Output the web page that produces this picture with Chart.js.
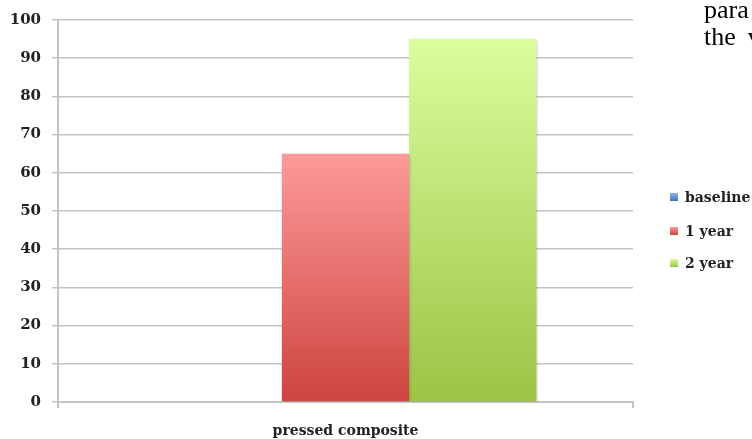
<!DOCTYPE html>
<html>
<head>
<meta charset="utf-8">
<script src="https://cdn.jsdelivr.net/npm/chart.js@4"></script>
<style>
    html, body { margin: 0; padding: 0; background: #fff; overflow: hidden; }
    #wrap { position: relative; width: 752px; height: 439px; overflow: hidden; }
    #pageText {
        position: absolute; left: 704px; top: -4px;
        font-family: "Liberation Serif", serif; font-size: 26px; line-height: 27px;
        color: #000; white-space: nowrap;
    }
    #pageText .cut { margin-left: 12px; }
    #legend { position: absolute; left: 670px; top: 0; font-family: "DejaVu Serif", serif; font-size: 14px; font-weight: bold; color: #222; }
    .legend-item { position: absolute; left: 0; white-space: nowrap; display: flex; align-items: center; height: 16px; }
    .legend-box { width: 8px; height: 8px; margin-right: 7px; }
</style>
</head>
<body>
<div id="wrap">
    <canvas id="chart" width="752" height="439"></canvas>
    <div id="pageText">para<br>the<span class="cut">v</span></div>
    <div id="legend"></div>
</div>
<script>
const categories = ["pressed composite"];
const seriesNames = ["baseline", "1 year", "2 year"];
const baselineValues = [0];
const year1Values = [65];
const year2Values = [95];
const yTicks = [0, 10, 20, 30, 40, 50, 60, 70, 80, 90, 100];

// gradient stops (top, bottom) for each series
const seriesColors = [
    ["#8fb5ea", "#3f72b8"],
    ["#fd9a9a", "#cd443f"],
    ["#dbfd9d", "#9bc445"]
];

document.addEventListener("DOMContentLoaded", function () {
    const ctx = document.getElementById("chart");

    function barGradient(index) {
        return function (context) {
            const chart = context.chart;
            const area = chart.chartArea;
            if (!area || context.raw === undefined) return seriesColors[index][1];
            const yScale = chart.scales.y;
            const top = yScale.getPixelForValue(context.raw);
            const bottom = yScale.getPixelForValue(0);
            if (bottom - top < 1) return seriesColors[index][1];
            const g = chart.ctx.createLinearGradient(0, top, 0, bottom);
            g.addColorStop(0, seriesColors[index][0]);
            g.addColorStop(1, seriesColors[index][1]);
            return g;
        };
    }

    // soft shadow under the bars
    const barShadow = {
        id: "barShadow",
        beforeDatasetsDraw(chart) {
            const c = chart.ctx;
            c.save();
            c.shadowColor = "rgba(0, 0, 0, 0.28)";
            c.shadowBlur = 3;
            c.shadowOffsetX = 1;
            c.shadowOffsetY = 1;
        },
        afterDatasetsDraw(chart) {
            chart.ctx.restore();
        }
    };

    const allValues = [baselineValues, year1Values, year2Values];

    new Chart(ctx, {
        type: "bar",
        data: {
            labels: categories,
            datasets: seriesNames.map((name, i) => ({
                label: name,
                data: allValues[i],
                backgroundColor: barGradient(i),
                borderWidth: 0,
                barPercentage: 1,
                categoryPercentage: 0.664
            }))
        },
        options: {
            responsive: false,
            animation: false,
            layout: { padding: { top: 19, right: 119, left: 0, bottom: 0 } },
            plugins: {
                legend: { display: false },
                tooltip: { enabled: false }
            },
            scales: {
                x: {
                    afterFit: scale => { scale.height = 37; },
                    grid: {
                        offset: true,
                        drawOnChartArea: false,
                        drawTicks: true,
                        tickLength: 6,
                        color: "#c4c4c4",
                        lineWidth: 2
                    },
                    border: { color: "#c4c4c4", width: 2 },
                    ticks: {
                        padding: 15,
                        color: "#222",
                        font: { family: "DejaVu Serif", size: 14, weight: "bold" }
                    }
                },
                y: {
                    min: 0,
                    max: 100,
                    afterFit: scale => { scale.width = 58; },
                    afterBuildTicks: scale => { scale.ticks = yTicks.map(v => ({ value: v })); },
                    grid: {
                        color: "#c4c4c4",
                        lineWidth: 1.5,
                        tickLength: 6
                    },
                    border: { color: "#c4c4c4", width: 2 },
                    ticks: {
                        padding: 11,
                        color: "#222",
                        font: { family: "DejaVu Serif", size: 15, weight: "bold" }
                    }
                }
            }
        },
        plugins: [barShadow]
    });

    // Legend on the right, built from the series names
    const legend = document.getElementById("legend");
    const legendTops = [189, 223, 255];
    seriesNames.forEach((name, i) => {
        const item = document.createElement("div");
        item.className = "legend-item";
        item.style.top = legendTops[i] + "px";
        item.innerHTML = `<span class="legend-box" style="background: linear-gradient(${seriesColors[i][0]}, ${seriesColors[i][1]});"></span>${name}`;
        legend.appendChild(item);
    });
});
</script>
</body>
</html>
